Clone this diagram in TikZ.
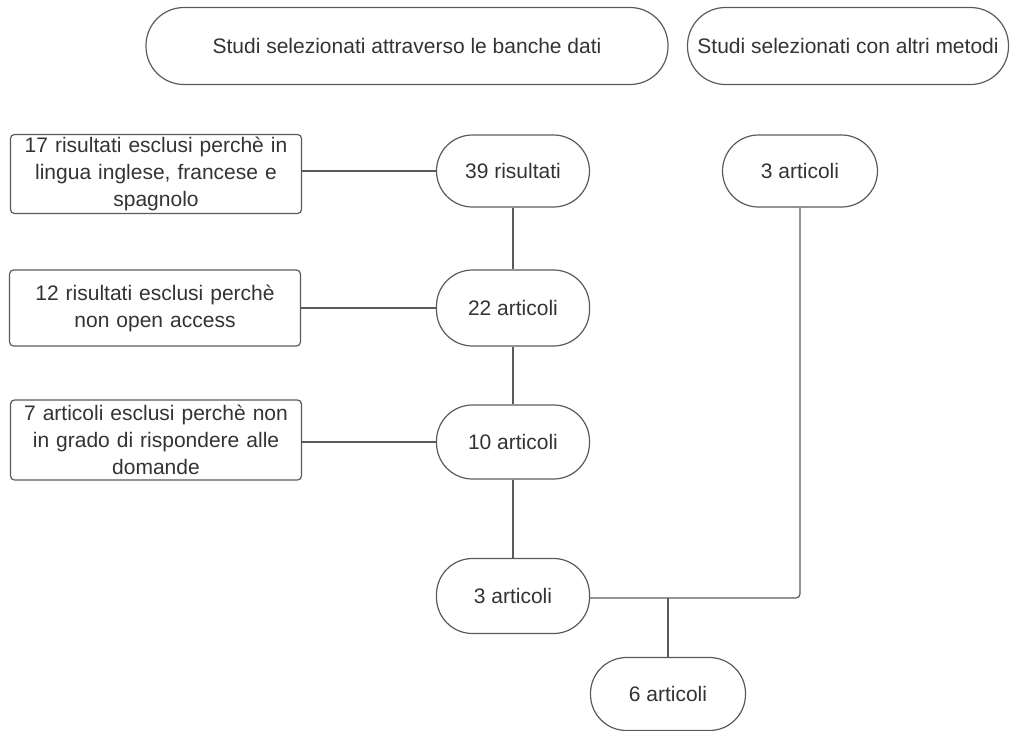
\documentclass[tikz,border=0pt]{standalone}
\usepackage{fontspec}
\setmainfont{Liberation Sans}
\definecolor{stroke}{HTML}{5A5A5A}
\definecolor{txt}{HTML}{333333}
\tikzset{
  pill/.style={draw=stroke, line width=1.2pt, rounded corners=36pt, align=center, text=txt,
    font=\fontsize{21}{27}\selectfont, inner sep=0pt},
  exbox/.style={draw=stroke, line width=1.2pt, rounded corners=4pt, align=center, text=txt,
    font=\fontsize{21}{27}\selectfont, inner sep=0pt, minimum width=291pt, text width=280pt},
  conn/.style={draw=stroke, line width=1.2pt},
}
\begin{document}
\begin{tikzpicture}[x=1pt,y=-1pt]
\useasboundingbox (0,0) rectangle (1010,731);
\node[pill, minimum width=522pt, minimum height=77pt, rounded corners=38pt] (top1) at (407,46) {Studi selezionati attraverso le banche dati};
\node[pill, minimum width=321pt, minimum height=77pt, rounded corners=38pt] (top2) at (848,46) {Studi selezionati con altri metodi};
\node[exbox, minimum height=79pt] (b17) at (156,174) {17 risultati esclusi perchè in\\lingua inglese, francese e\\spagnolo};
\node[exbox, minimum height=76pt] (b12) at (155,308) {12 risultati esclusi perchè\\non open access};
\node[exbox, minimum height=80pt] (b7) at (156,440) {7 articoli esclusi perchè non\\in grado di rispondere alle\\domande};
\node[pill, minimum width=153pt, minimum height=72pt] (r39) at (513,171) {39 risultati};
\node[pill, minimum width=153pt, minimum height=76pt] (a22) at (513,308) {22 articoli};
\node[pill, minimum width=153pt, minimum height=74pt] (a10) at (513,442) {10 articoli};
\node[pill, minimum width=153pt, minimum height=75pt] (a3l) at (513,596) {3 articoli};
\node[pill, minimum width=155pt, minimum height=72pt] (a3r) at (800,171) {3 articoli};
\node[pill, minimum width=155pt, minimum height=73pt] (a6) at (668,694) {6 articoli};
\coordinate (jn) at (668,598);
\draw[conn] (b17.east |- r39.west) -- (r39.west);
\draw[conn] (b12.east) -- (a22.west);
\draw[conn] (b7.east |- a10.west) -- (a10.west);
\draw[conn] (r39.south) -- (a22.north);
\draw[conn] (a22.south) -- (a10.north);
\draw[conn] (a10.south) -- (a3l.north);
\draw[conn, rounded corners=4pt] (a3r.south) |- (jn) -- (a3l.east |- jn);
\draw[conn] (jn) -- (a6.north);
\end{tikzpicture}
\end{document}
